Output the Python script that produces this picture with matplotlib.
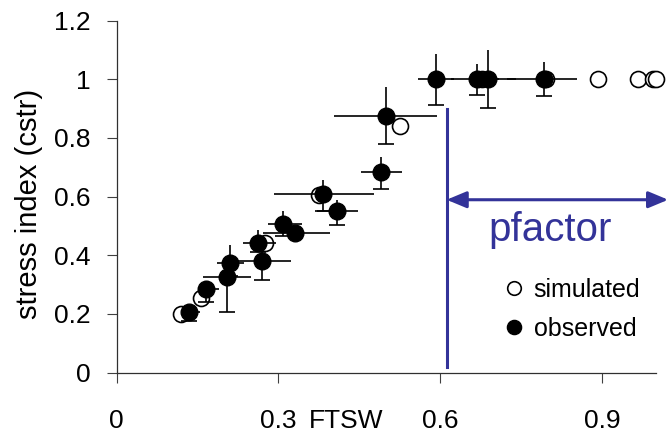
import matplotlib.pyplot as plt

plt.rcParams['font.family'] = ['Liberation Sans', 'DejaVu Sans']

# observed FTSW / stress index with error bar ends
obs_x = [0.135, 0.166, 0.210, 0.204, 0.263, 0.269, 0.309, 0.331,
         0.383, 0.408, 0.490, 0.500, 0.592, 0.668, 0.688, 0.792]
obs_y = [0.208, 0.284, 0.375, 0.325, 0.443, 0.381, 0.507, 0.477,
         0.608, 0.552, 0.682, 0.876, 1.000, 1.000, 1.000, 1.000]
obs_x_lo = [0.121, 0.151, 0.186, 0.161, 0.235, 0.216, 0.281, 0.271,
            0.291, 0.372, 0.453, 0.403, 0.558, 0.620, 0.660, 0.724]
obs_x_hi = [0.155, 0.190, 0.236, 0.249, 0.296, 0.323, 0.343, 0.395,
            0.477, 0.448, 0.529, 0.594, 0.625, 0.710, 0.740, 0.853]
obs_y_lo = [0.177, 0.242, 0.329, 0.208, 0.410, 0.316, 0.466, 0.477,
            0.551, 0.504, 0.626, 0.779, 0.913, 0.947, 0.902, 0.942]
obs_y_hi = [0.220, 0.313, 0.435, 0.350, 0.487, 0.418, 0.549, 0.477,
            0.657, 0.589, 0.735, 0.972, 1.086, 1.052, 1.098, 1.058]

# simulated values
sim_x = [0.119, 0.156, 0.276, 0.376, 0.526, 0.678, 0.797, 0.892, 0.967, 0.995, 1.000]
sim_y = [0.199, 0.255, 0.443, 0.604, 0.842, 1.000, 1.000, 1.000, 1.000, 1.000, 1.000]

# threshold (pfactor) marker
pfactor_x = 0.612
pfactor_line_y = [0.02, 0.90]
pfactor_arrow_y = 0.589
pfactor_arrow_end = 1.023

xticks = [0, 0.3, 0.6, 0.9]
xtick_labels = ['0', '0.3', '0.6', '0.9']
yticks = [0, 0.2, 0.4, 0.6, 0.8, 1.0, 1.2]
ytick_labels = ['0', '0.2', '0.4', '0.6', '0.8', '1', '1.2']

blue = '#333399'

fig = plt.figure(figsize=(6.68, 4.32), dpi=100)
ax = fig.add_axes([0.1747, 0.1377, 0.807, 0.8148])

xerr = [[x - lo for x, lo in zip(obs_x, obs_x_lo)],
        [hi - x for x, hi in zip(obs_x, obs_x_hi)]]
yerr = [[y - lo for y, lo in zip(obs_y, obs_y_lo)],
        [hi - y for y, hi in zip(obs_y, obs_y_hi)]]

# simulated circles sit underneath everything else
ax.plot(sim_x, sim_y, 'o', ms=11.5, mfc='white', mec='black', mew=1.2,
        clip_on=False, zorder=2, label='simulated')
ax.errorbar(obs_x, obs_y, xerr=xerr, yerr=yerr, fmt='none', ecolor='black',
            elinewidth=1.2, capsize=0, zorder=3)
# caps only on the lower end of the vertical bars
ax.plot(obs_x, obs_y_lo, '_', ms=11, mew=1.2, color='black', zorder=3)
ax.plot(obs_x, obs_y, 'o', ms=12, mfc='black', mec='black', zorder=4,
        label='observed')

ax.plot([pfactor_x, pfactor_x], pfactor_line_y, color=blue, lw=2.2, zorder=5)
ax.annotate('', xy=(pfactor_arrow_end, pfactor_arrow_y), xytext=(pfactor_x, pfactor_arrow_y),
            arrowprops=dict(arrowstyle='<|-|>,head_length=0.6,head_width=0.25',
                            color=blue, lw=2.2, mutation_scale=20,
                            shrinkA=0, shrinkB=0),
            annotation_clip=False, zorder=5)
ax.text(0.804, 0.449, 'pfactor', color=blue, fontsize=29, ha='center', va='baseline')

ax.set_xlim(0, 1.0)
ax.set_ylim(0, 1.2)
ax.set_xticks(xticks)
ax.set_xticklabels(xtick_labels)
ax.set_yticks(yticks)
ax.set_yticklabels(ytick_labels)
ax.tick_params(axis='x', length=7, width=0.8, color='#404040', pad=19, labelsize=19)
ax.tick_params(axis='y', length=7, width=0.8, color='#404040', pad=12, labelsize=19)

for side in ['top', 'right']:
    ax.spines[side].set_visible(False)
for side in ['left', 'bottom']:
    ax.spines[side].set_color('#303030')
    ax.spines[side].set_linewidth(0.9)

ax.set_xlabel('FTSW', fontsize=19)
ax.xaxis.set_label_coords(0.426, -0.137)
ax.xaxis.label.set_va('center')
ax.set_ylabel('stress index (cstr)', fontsize=21)
ax.yaxis.set_label_coords(-0.1636, 0.479)
ax.yaxis.label.set_va('center')

ax.legend(loc='center left', bbox_to_anchor=(0.718, 0.18), frameon=False,
          fontsize=18, handlelength=0.8, handletextpad=0.4, labelspacing=0.6,
          borderpad=0, borderaxespad=0, markerscale=0.85)

fig.savefig('out.png', dpi=100)
